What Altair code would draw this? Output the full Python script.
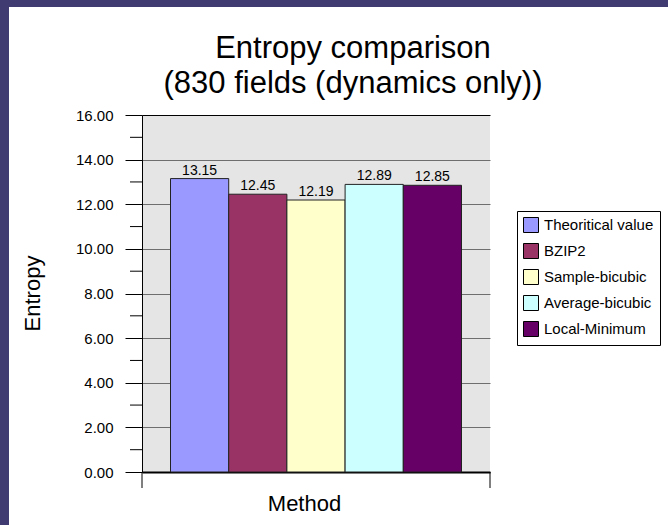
import altair as alt
import pandas as pd

# Entropy per compression method
methods = ["Theoritical value", "BZIP2", "Sample-bicubic", "Average-bicubic", "Local-Minimum"]
entropy = [13.15, 12.45, 12.19, 12.89, 12.85]
colors = ["#9999ff", "#993366", "#ffffcc", "#ccffff", "#660066"]
major_ticks = [0, 2, 4, 6, 8, 10, 12, 14, 16]
minor_ticks = [1, 3, 5, 7, 9, 11, 13, 15]
title_lines = ["Entropy comparison", "(830 fields (dynamics only))"]

df = pd.DataFrame({"method": methods, "entropy": entropy})
minor_df = pd.DataFrame({"v": minor_ticks})

W, H = 348, 357
FONT = "Liberation Sans"
BORDER = "#403c72"

x_enc = alt.X(
    "method:N",
    sort=methods,
    scale=alt.Scale(paddingInner=0, paddingOuter=0.49),
    axis=alt.Axis(
        title="Method", labels=False, ticks=False, grid=False,
        domainColor="black", domainWidth=2,
        titleFont=FONT, titleFontSize=22, titleFontWeight="normal", titleColor="black",
        titleX=162, titleY=38, titleBaseline="alphabetic", titleAlign="center",
    ),
)

y_scale = alt.Scale(domain=[0, 16], nice=False, zero=True)

y_enc = alt.Y(
    "entropy:Q",
    scale=y_scale,
    axis=alt.Axis(
        values=major_ticks,
        title="Entropy",
        grid=True,
        gridColor={"condition": {"test": "datum.value === 16", "value": "black"}, "value": "#6e6e6e"},
        tickSize=17,
        tickColor="black",
        format=".2f",
        labelFont=FONT, labelFontSize=15, labelColor="black", labelPadding=12,
        domainColor="black",
        titleFont=FONT, titleFontSize=22, titleFontWeight="normal", titleColor="black",
        titleX=-103, titleY=178, titleBaseline="alphabetic", titleAlign="center",
    ),
)

legend = alt.Legend(
    title=None, orient="none", legendX=375, legendY=96,
    strokeColor="black", fillColor="white", padding=6,
    symbolType="square", symbolSize=225, symbolStrokeColor="black", symbolStrokeWidth=1,
    symbolOpacity=1,
    labelFont=FONT, labelFontSize=15, labelColor="black", labelOffset=5,
    rowPadding=6,
)

base = alt.Chart(df)

bars = base.mark_bar(stroke="#222222", strokeWidth=1).encode(
    x=x_enc,
    y=y_enc,
    color=alt.Color("method:N", sort=methods,
                    scale=alt.Scale(domain=methods, range=colors), legend=legend),
)

labels = base.mark_text(font=FONT, fontSize=14, color="black", baseline="alphabetic", dy=-4).encode(
    x=alt.X("method:N", sort=methods),
    y="entropy:Q",
    text=alt.Text("entropy:Q", format=".2f"),
)

# minor ticks between the labelled values
minor = alt.Chart(minor_df).mark_rule(color="black", strokeWidth=1).encode(
    x=alt.value(-12), x2=alt.value(0),
    y=alt.Y("v:Q", scale=y_scale),
)

one = alt.Data(values=[{"k": 0}])

# end ticks of the category axis
tick_left = alt.Chart(one).mark_rule(color="black", strokeWidth=1).encode(
    x=alt.value(0), y=alt.value(H), y2=alt.value(H + 16))
tick_right = alt.Chart(one).mark_rule(color="black", strokeWidth=1).encode(
    x=alt.value(W), y=alt.value(H), y2=alt.value(H + 16))

# frame strips along the top and left edges
strip_top = alt.Chart(one).mark_rect(color=BORDER).encode(
    x=alt.value(-142), x2=alt.value(526), y=alt.value(-115), y2=alt.value(-108))
strip_left = alt.Chart(one).mark_rect(color=BORDER).encode(
    x=alt.value(-142), x2=alt.value(-133), y=alt.value(-115), y2=alt.value(410))

# two-line heading
heading = [
    alt.Chart(one).mark_text(font=FONT, fontSize=31, color="black",
                             align="center", baseline="alphabetic", text=line).encode(
        x=alt.value(211), y=alt.value(yy))
    for line, yy in zip(title_lines, [-57, -22])
]

chart = alt.layer(
    strip_top, strip_left, *heading, bars, labels, minor, tick_left, tick_right
).properties(
    width=W,
    height=H,
    background="white",
    padding={"left": 142, "top": 115, "right": 178, "bottom": 53},
    autosize=alt.AutoSizeParams(type="none"),
).configure_view(
    fill="#e5e5e5", stroke=None,
)

chart.save("out.html", embed_options={"renderer": "svg", "actions": False})
